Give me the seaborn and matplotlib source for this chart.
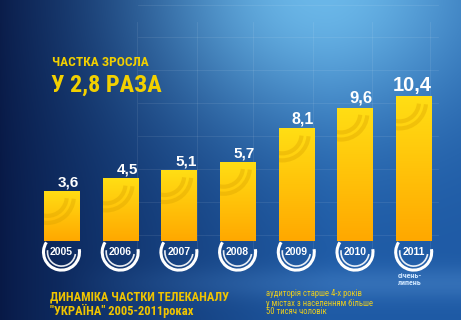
import numpy as np
import pandas as pd
import matplotlib
matplotlib.use("Agg")
import matplotlib.pyplot as plt
from matplotlib.patches import Arc
import seaborn as sns

# ---- data ----
years = ["2005", "2006", "2007", "2008", "2009", "2010", "2011"]
share = [3.6, 4.5, 5.1, 5.7, 8.1, 9.6, 10.4]
value_labels = ["3,6", "4,5", "5,1", "5,7", "8,1", "9,6", "10,4"]
title_lines = ["ЧАСТКА ЗРОСЛА", "У 2,8 РАЗА"]
footer_lines = ["ДИНАМІКА ЧАСТКИ ТЕЛЕКАНАЛУ", "\"УКРАЇНА\" 2005-2011роках"]
note_lines = ["аудиторія старше 4-х років", "у містах з населенням більше", "50 тисяч чоловік"]
period_note = "січень-\nлипень"

sns.set_theme(style="white")
COND = ["Roboto Condensed", "PT Sans Narrow", "Oswald", "DejaVu Sans"]
NUM = ["Liberation Sans", "DejaVu Sans"]
plt.rcParams["font.family"] = NUM

W, H = 461, 320
fig = plt.figure(figsize=(W / 100, H / 100), dpi=100)
ax = fig.add_axes([0, 0, 1, 1])

# pixel mapping
x0, dx = 61.5, 58.7
y0, dy = 241.0, 13.9
xl = (-x0 / dx, (W - x0) / dx)
yl = (-(H - y0) / dy, y0 / dy)

# background gradient
X, Y = np.meshgrid(np.arange(W), np.arange(H))
navy = np.array([8, 25, 70]) / 255
mid = np.array([30, 90, 165]) / 255
hi = np.array([120, 200, 245]) / 255
t = np.clip(X / 330, 0, 1)[..., None] ** 0.8
img = navy * (1 - t) + mid * t
d2 = (X - 320) ** 2 + (Y + 10) ** 2 * 1.6
g = np.exp(-d2 / (2 * 120 ** 2))[..., None] * 0.85
img = img * (1 - g) + hi * g
cl = np.exp(-((Y - 283) ** 2) / (2 * 12 ** 2))[..., None] * np.clip((X - 60) / 300, 0, 1)[..., None] * 0.35
img = img * (1 - cl) + np.array([90, 150, 215]) / 255 * cl
ax.imshow(img, extent=(xl[0], xl[1], yl[0], yl[1]), aspect="auto", zorder=0, origin="upper")

# faint grid
for py in [5, 37, 70, 103, 136, 169, 202, 235]:
    ax.axhline((y0 - py) / dy, xmin=0.3, xmax=0.95, color="white", alpha=0.08, lw=0.8, zorder=1)
for px in [137, 197, 253, 313, 372, 430]:
    ax.axvline((px - x0) / dx, ymin=0.2, ymax=0.93, color="white", alpha=0.08, lw=0.8, zorder=1)

df = pd.DataFrame({"year": years, "share": share})
sns.barplot(data=df, x="year", y="share", color="#ffc000", width=0.6, ax=ax,
            saturation=1, edgecolor="none", zorder=3)

# gradient fill on bars
grad = np.linspace(0, 1, 100)[:, None]
top_c = np.array([255, 222, 20]) / 255
bot_c = np.array([255, 168, 0]) / 255
gimg = top_c * (1 - grad[..., None]) + bot_c * grad[..., None]
for p in ax.patches:
    bx, bw, bh = p.get_x(), p.get_width(), p.get_height()
    im = ax.imshow(gimg, extent=(bx, bx + bw, 0, bh), aspect="auto", zorder=4, origin="upper")
    im.set_clip_path(p)
    for r in [0.55, 0.75]:
        a = Arc((bx + bw * 0.1, bh - 0.4), r * 2 * 0.6, r * 2 * 0.6 * dx / dy, theta1=200, theta2=340,
                color="#d9a000", alpha=0.35, lw=3, zorder=5)
        ax.add_patch(a)
        a.set_clip_path(p)

# value labels
sizes = [11, 11, 11, 11, 11.5, 12, 14.5]
for i, (v, lab) in enumerate(zip(share, value_labels)):
    ax.text(i + 0.3, v + 0.12, lab, ha="right", va="bottom", color="white",
            fontsize=sizes[i], fontweight="bold", zorder=6)

# year circles
ry = -0.8
for i, yr in enumerate(years):
    ax.add_patch(Arc((i, ry), 2 * 18 / dx, 2 * 18 / dy, theta1=110, theta2=395,
                     color="white", lw=2.2, zorder=6))
    ax.add_patch(Arc((i, ry), 2 * 14 / dx, 2 * 14 / dy, theta1=150, theta2=330,
                     color="white", lw=1.2, alpha=0.9, zorder=6))
    ax.text(i, ry, yr, ha="center", va="center", color="white", fontsize=7.5,
            fontweight="bold", zorder=7)

ax.set_xlim(*xl)
ax.set_ylim(*yl)
ax.axis("off")

yellow = "#f2d000"
fig.text(52 / W, 1 - 63 / H, title_lines[0], color=yellow, fontsize=9.6, fontweight="bold",
         va="center", ha="left", family=COND)
fig.text(51 / W, 1 - 85 / H, title_lines[1], color=yellow, fontsize=17.5, fontweight="bold",
         va="center", ha="left", family=COND)
fig.text(50 / W, 1 - 297 / H, footer_lines[0], color="#f0c400", fontsize=9.0, fontweight="bold",
         va="center", ha="left", family=COND)
fig.text(50 / W, 1 - 311 / H, footer_lines[1], color="#f0c400", fontsize=9.0, fontweight="bold",
         va="center", ha="left", family=COND)
for k, line in enumerate(note_lines):
    fig.text(266 / W, 1 - (294 + 9 * k) / H, line, color="#e8cc20", fontsize=6.2,
             va="center", ha="left", family=COND)
fig.text(398 / W, 1 - 279 / H, period_note, color="#cfe6ff", fontsize=5.8, fontweight="bold",
         va="center", ha="left", linespacing=1.0, family=COND)

fig.savefig("out.png", dpi=100)
